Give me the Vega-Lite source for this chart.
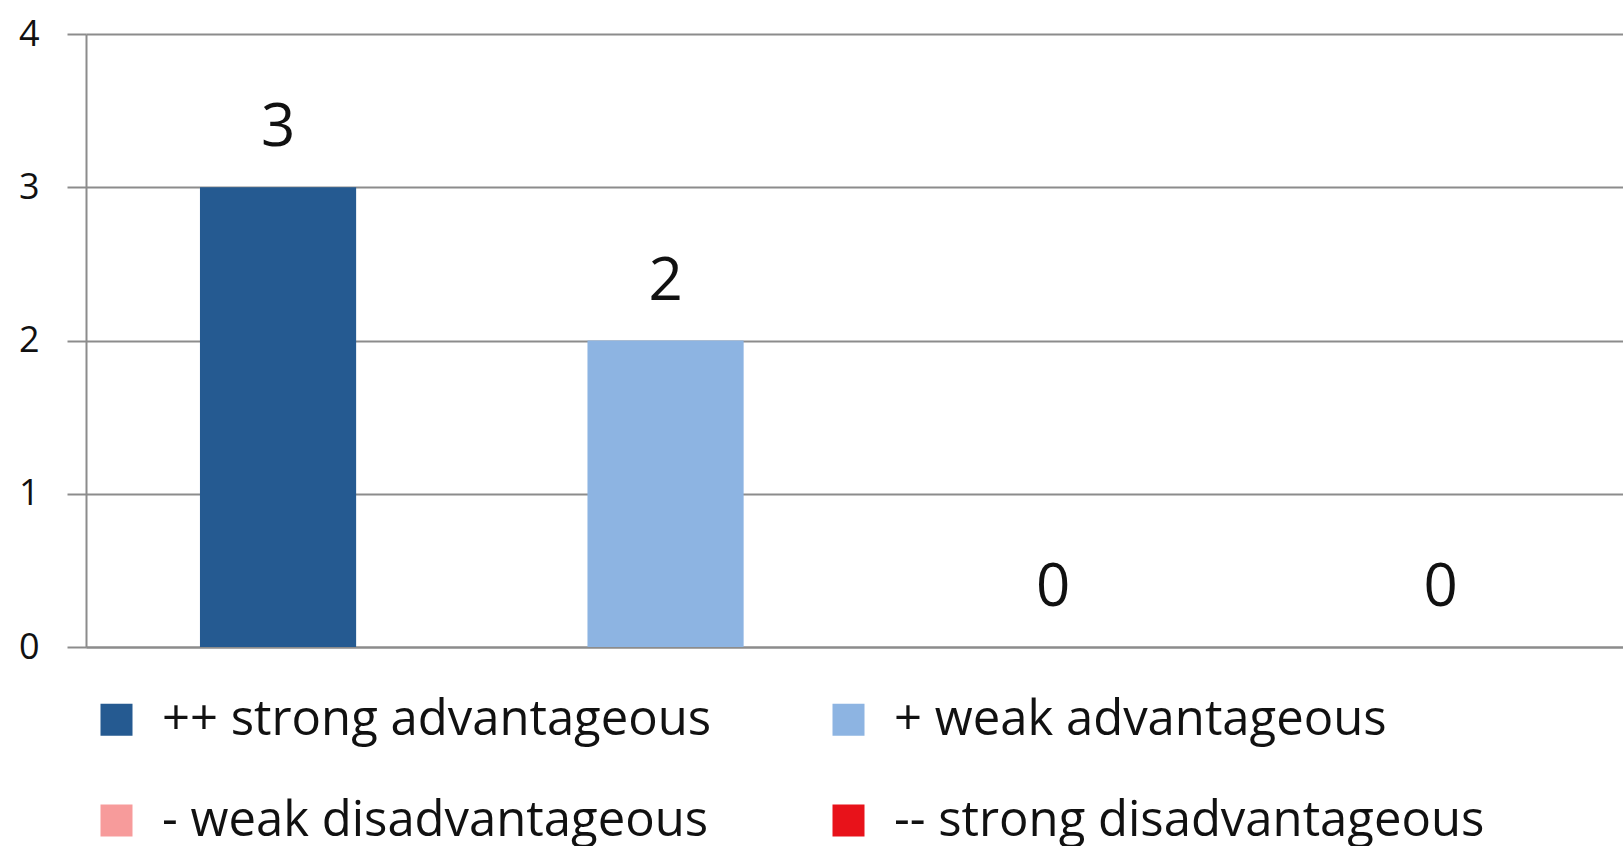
{
  "$schema": "https://vega.github.io/schema/vega-lite/v6.json",
  "width": 1537,
  "height": 613,
  "autosize": {"type": "none"},
  "padding": {"left": 86, "top": 34, "right": 0, "bottom": 199},
  "background": "white",
  "config": {"view": {"stroke": null}, "font": "Open Sans"},
  "data": {"values": [
    {"category": "++ strong advantageous", "count": 3},
    {"category": "+ weak advantageous", "count": 2},
    {"category": "- weak disadvantageous", "count": 0},
    {"category": "-- strong disadvantageous", "count": 0}
  ]},
  "encoding": {
    "x": {
      "field": "category", "type": "nominal", "sort": null,
      "scale": {"paddingInner": 0.597, "paddingOuter": 0.2817, "align": 0.522},
      "axis": {"labels": false, "ticks": false, "title": null, "domainColor": "#8c8c8c", "domainWidth": 2, "grid": false}
    },
    "y": {
      "field": "count", "type": "quantitative",
      "scale": {"domain": [0, 4], "nice": false},
      "axis": {"values": [0, 1, 2, 3, 4], "title": null, "tickSize": 19, "tickColor": "#8c8c8c", "tickWidth": 2,
               "grid": true, "gridColor": "#8c8c8c", "gridWidth": 2, "domainColor": "#8c8c8c", "domainWidth": 2,
               "labelFontSize": 36, "labelPadding": 28, "labelColor": "#111111", "labelFont": "Open Sans"}
    }
  },
  "layer": [
    {
      "mark": {"type": "bar"},
      "encoding": {
        "color": {
          "field": "category", "type": "nominal", "sort": null,
          "scale": {
            "domain": ["++ strong advantageous", "+ weak advantageous", "- weak disadvantageous", "-- strong disadvantageous"],
            "range": ["#255A91", "#8DB4E2", "#F79B9B", "#E8121A"]
          },
          "legend": {
            "orient": "none", "legendX": 6, "legendY": 661, "direction": "horizontal", "columns": 2,
            "title": null, "symbolType": "square", "symbolSize": 1024, "symbolStrokeWidth": 0,
            "labelFontSize": 49, "labelFont": "Open Sans", "labelColor": "#111111", "labelOffset": 21,
            "rowPadding": 51, "columnPadding": 112, "padding": 0, "labelLimit": 1000
          }
        }
      }
    },
    {
      "mark": {"type": "text", "dy": -41, "baseline": "alphabetic", "fontSize": 60, "font": "Open Sans", "color": "#111111"},
      "encoding": {"text": {"field": "count", "type": "quantitative"}}
    }
  ]
}
